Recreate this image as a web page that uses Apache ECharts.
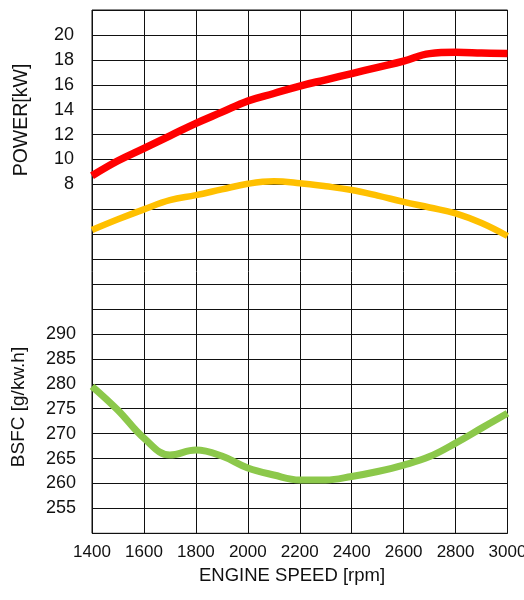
<!DOCTYPE html>
<html>
<head>
<meta charset="utf-8">
<script src="https://cdn.jsdelivr.net/npm/echarts@6/dist/echarts.min.js"></script>
<style>html,body{margin:0;padding:0;background:#fff}#c{width:524px;height:600px}</style>
</head>
<body>
<div id="c"></div>
<script>
var speeds = [1400,1500,1600,1700,1800,1900,2000,2100,2200,2300,2400,2500,2600,2700,2800,2900,3000];
var powerKW = [8.7,9.9,10.9,11.9,12.9,13.8,14.7,15.3,15.9,16.4,16.9,17.4,17.9,18.5,18.6,18.55,18.5];
var secondCurve = [4.34,5.2,6.0,6.74,7.14,7.6,8.05,8.25,8.1,7.85,7.55,7.1,6.6,6.15,5.68,4.9,3.86];
var bsfc = [279.5,274.7,269.1,265.7,266.7,265.5,263.1,261.7,260.7,260.7,261.4,262.4,263.7,265.4,268.1,271.1,274.1];
var xTicks = [1400,1600,1800,2000,2200,2400,2600,2800,3000];
var powerTicks = [8,10,12,14,16,18,20];
var bsfcTicks = [255,260,265,270,275,280,285,290];

function pairs(ys){ return speeds.map(function(x,i){ return [x, ys[i]]; }); }
var font = 'Liberation Sans, Arial, sans-serif';
var chart = echarts.init(document.getElementById('c'));
chart.setOption({
  animation: false,
  grid: {left: 92, right: 16.5, top: 10, bottom: 66.7, show: true, borderColor: '#111', borderWidth: 1,
    containLabel: false, outerBoundsMode: 'none'},
  xAxis: {
    type: 'value', min: 1400, max: 3000, interval: 200,
    axisLine: {show: false}, axisTick: {show: false},
    splitLine: {show: true, lineStyle: {color: '#111', width: 1}},
    axisLabel: {color: '#111', fontSize: 17, fontFamily: font, margin: 11,
      formatter: function(v){ return xTicks.indexOf(v) >= 0 ? String(v) : ''; }}
  },
  yAxis: [
    {
      type: 'value', min: -20, max: 22, interval: 2, position: 'left',
      axisLine: {show: false}, axisTick: {show: false},
      splitLine: {show: true, lineStyle: {color: '#111', width: 1}},
      axisLabel: {color: '#111', fontSize: 18, fontFamily: font, margin: 18,
        formatter: function(v){ return powerTicks.indexOf(v) >= 0 ? String(v) : ''; }}
    },
    {
      type: 'value', min: 250, max: 355, interval: 5, position: 'left',
      axisLine: {show: false}, axisTick: {show: false}, splitLine: {show: false},
      axisLabel: {color: '#111', fontSize: 18, fontFamily: font, margin: 16,
        formatter: function(v){ return bsfcTicks.indexOf(v) >= 0 ? String(v) : ''; }}
    }
  ],
  series: [
    {type: 'line', yAxisIndex: 0, data: pairs(powerKW), smooth: 0.4, showSymbol: false,
      lineStyle: {color: '#ff0000', width: 7.5}},
    {type: 'line', yAxisIndex: 0, data: pairs(secondCurve), smooth: 0.4, showSymbol: false,
      lineStyle: {color: '#ffc000', width: 6.5}},
    {type: 'line', yAxisIndex: 1, data: pairs(bsfc), smooth: 0.4, showSymbol: false,
      lineStyle: {color: '#8cc84b', width: 7}}
  ],
  graphic: [
    {type: 'text', x: 22, y: 120, rotation: Math.PI/2,
      style: {text: 'POWER[kW]', fill: '#111', font: '19.5px ' + font, align: 'center', verticalAlign: 'middle'}},
    {type: 'text', x: 19, y: 407, rotation: Math.PI/2,
      style: {text: 'BSFC [g/kw.h]', fill: '#111', font: '19px ' + font, align: 'center', verticalAlign: 'middle'}},
    {type: 'text', x: 292, y: 576,
      style: {text: 'ENGINE SPEED [rpm]', fill: '#111', font: '18.5px ' + font, align: 'center', verticalAlign: 'middle'}}
  ]
});
</script>
</body>
</html>
